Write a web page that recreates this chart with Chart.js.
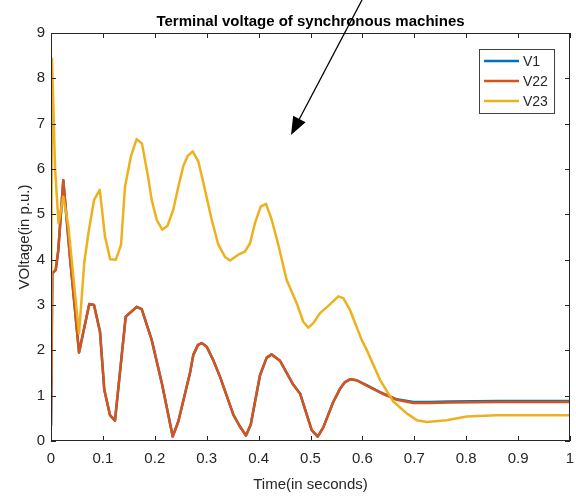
<!DOCTYPE html>
<html>
<head>
<meta charset="utf-8">
<script src="https://cdn.jsdelivr.net/npm/chart.js@4.4.0/dist/chart.umd.min.js"></script>
<style>
  html, body { margin: 0; padding: 0; background: #fff; }
  canvas { display: block; }
</style>
</head>
<body>
<canvas id="voltChart" width="576" height="499"></canvas>
<script>
// Tiempos de simulacion (s) y tensiones en bornes (p.u.)
const timeV1 = [0, 0.0025, 0.009, 0.014, 0.0237, 0.0366, 0.054, 0.0738, 0.0829, 0.0944, 0.1027, 0.1137, 0.1233, 0.1439, 0.1651, 0.1748, 0.194, 0.214, 0.2345, 0.2453, 0.2678, 0.2742, 0.2832, 0.2904, 0.30, 0.312, 0.3256, 0.3513, 0.364, 0.3757, 0.3848, 0.4027, 0.4156, 0.4252, 0.4412, 0.4669, 0.4798, 0.5023, 0.5139, 0.5247, 0.5434, 0.5568, 0.5665, 0.5761, 0.589, 0.61, 0.6339, 0.6661, 0.698, 0.7303, 0.7688, 0.865, 1.0];
const valuesV1 = [0.35, 3.7, 3.77, 4.2, 5.75, 4.05, 1.95, 3.02, 3.0, 2.41, 1.13, 0.57, 0.45, 2.74, 2.96, 2.91, 2.23, 1.25, 0.1, 0.43, 1.5, 1.9, 2.12, 2.16, 2.08, 1.8, 1.42, 0.58, 0.32, 0.12, 0.36, 1.45, 1.84, 1.91, 1.77, 1.24, 1.05, 0.24, 0.095, 0.3, 0.85, 1.15, 1.3, 1.36, 1.34, 1.22, 1.08, 0.92, 0.86, 0.86, 0.87, 0.88, 0.88];

const timeV22 = timeV1;
const valuesV22 = [0.35, 3.7, 3.77, 4.2, 5.75, 4.05, 1.95, 3.02, 3.0, 2.41, 1.13, 0.57, 0.45, 2.74, 2.96, 2.91, 2.23, 1.25, 0.1, 0.43, 1.5, 1.9, 2.12, 2.16, 2.08, 1.8, 1.42, 0.58, 0.32, 0.12, 0.36, 1.45, 1.84, 1.91, 1.77, 1.24, 1.05, 0.24, 0.095, 0.3, 0.85, 1.15, 1.3, 1.36, 1.34, 1.21, 1.07, 0.91, 0.84, 0.84, 0.85, 0.86, 0.86];

const timeV23 = [0, 0.002, 0.0077, 0.0145, 0.0237, 0.0333, 0.054, 0.064, 0.072, 0.083, 0.094, 0.104, 0.114, 0.125, 0.135, 0.1426, 0.154, 0.165, 0.1753, 0.1875, 0.194, 0.2037, 0.2145, 0.2245, 0.2356, 0.2453, 0.2549, 0.2634, 0.273, 0.2838, 0.2967, 0.3096, 0.3224, 0.3353, 0.345, 0.3609, 0.3738, 0.3834, 0.3931, 0.404, 0.4143, 0.4252, 0.438, 0.4495, 0.4541, 0.4734, 0.4861, 0.4958, 0.5054, 0.5183, 0.5343, 0.5536, 0.5632, 0.5761, 0.5986, 0.6083, 0.6339, 0.6595, 0.6854, 0.7046, 0.7239, 0.7624, 0.801, 0.8588, 1.0];
const valuesV23 = [1.46, 8.43, 6.05, 4.8, 5.39, 4.75, 2.37, 3.92, 4.58, 5.32, 5.54, 4.51, 4.01, 4.0, 4.33, 5.61, 6.28, 6.66, 6.56, 5.8, 5.32, 4.88, 4.66, 4.75, 5.1, 5.61, 6.06, 6.29, 6.39, 6.17, 5.54, 4.88, 4.33, 4.06, 3.98, 4.11, 4.18, 4.36, 4.81, 5.17, 5.23, 4.88, 4.33, 3.77, 3.55, 3.04, 2.63, 2.5, 2.6, 2.82, 2.98, 3.19, 3.15, 2.89, 2.23, 2.01, 1.35, 0.87, 0.61, 0.46, 0.42, 0.46, 0.54, 0.57, 0.57];

const seriesNames = ['V1', 'V22', 'V23'];
const seriesColors = ['#0072BD', '#D95319', '#EDB120'];
const xTicks = [0, 0.1, 0.2, 0.3, 0.4, 0.5, 0.6, 0.7, 0.8, 0.9, 1];
const yTicks = [0, 1, 2, 3, 4, 5, 6, 7, 8, 9];

const titleText = 'Terminal voltage of synchronous machines';
const xTitle = 'Time(in seconds)';
const yTitle = 'VOltage(in p.u.)';

const FONT = '"Liberation Sans", Arial, Helvetica, sans-serif';
const AXIS_COLOR = '#262626';

function toPoints(times, vals) {
  return times.map((t, i) => ({ x: t, y: vals[i] }));
}

// Caja, marcas hacia dentro, titulos, leyenda y flecha
const matlabAxes = {
  id: 'matlabAxes',
  afterDraw(chart) {
    const { ctx, chartArea: a, scales } = chart;
    ctx.save();
    ctx.strokeStyle = AXIS_COLOR;
    ctx.lineWidth = 1;
    ctx.strokeRect(a.left + 0.5, a.top + 0.5, a.right - a.left - 1, a.bottom - a.top - 1);

    ctx.beginPath();
    xTicks.forEach(v => {
      const x = Math.round(scales.x.getPixelForValue(v)) + 0.5;
      ctx.moveTo(x, a.bottom); ctx.lineTo(x, a.bottom - 5);
      ctx.moveTo(x, a.top); ctx.lineTo(x, a.top + 5);
    });
    yTicks.forEach(v => {
      const y = Math.round(scales.y.getPixelForValue(v)) + 0.5;
      ctx.moveTo(a.left, y); ctx.lineTo(a.left + 5, y);
      ctx.moveTo(a.right, y); ctx.lineTo(a.right - 5, y);
    });
    ctx.stroke();

    // titulo
    ctx.fillStyle = '#000';
    ctx.font = 'bold 15px ' + FONT;
    ctx.textAlign = 'center';
    ctx.textBaseline = 'alphabetic';
    ctx.fillText(titleText, (a.left + a.right) / 2, 26);

    // titulos de ejes
    ctx.fillStyle = AXIS_COLOR;
    ctx.font = '15px ' + FONT;
    ctx.fillText(xTitle, (a.left + a.right) / 2, 489);
    ctx.save();
    ctx.translate(29, (a.top + a.bottom) / 2);
    ctx.rotate(-Math.PI / 2);
    ctx.fillText(yTitle, 0, 0);
    ctx.restore();

    // leyenda
    const lx = 479, ly = 49, lw = 75, lh = 64;
    ctx.fillStyle = '#fff';
    ctx.fillRect(lx, ly, lw, lh);
    ctx.strokeStyle = '#404040';
    ctx.lineWidth = 1;
    ctx.strokeRect(lx + 0.5, ly + 0.5, lw, lh);
    ctx.font = '14px ' + FONT;
    ctx.textAlign = 'left';
    ctx.textBaseline = 'middle';
    seriesNames.forEach((name, i) => {
      const y = ly + 12 + i * 20;
      ctx.strokeStyle = seriesColors[i];
      ctx.lineWidth = 2.5;
      ctx.beginPath();
      ctx.moveTo(lx + 5, y); ctx.lineTo(lx + 40, y);
      ctx.stroke();
      ctx.fillStyle = AXIS_COLOR;
      ctx.fillText(name, lx + 44, y + 1);
    });

    // flecha
    const tipX = 291, tipY = 135, fromX = 362, fromY = 0;
    const ang = Math.atan2(tipY - fromY, tipX - fromX);
    const headLen = 18, headW = 7;
    const bx = tipX - headLen * Math.cos(ang), by = tipY - headLen * Math.sin(ang);
    ctx.strokeStyle = '#000';
    ctx.lineWidth = 1.3;
    ctx.beginPath();
    ctx.moveTo(fromX, fromY); ctx.lineTo(bx, by);
    ctx.stroke();
    ctx.fillStyle = '#000';
    ctx.beginPath();
    ctx.moveTo(tipX, tipY);
    ctx.lineTo(bx + headW * Math.sin(ang), by - headW * Math.cos(ang));
    ctx.lineTo(bx - headW * Math.sin(ang), by + headW * Math.cos(ang));
    ctx.closePath();
    ctx.fill();
    ctx.restore();
  }
};

new Chart(document.getElementById('voltChart'), {
  type: 'line',
  data: {
    datasets: [
      { label: seriesNames[0], data: toPoints(timeV1, valuesV1), borderColor: seriesColors[0], order: 2 },
      { label: seriesNames[1], data: toPoints(timeV22, valuesV22), borderColor: seriesColors[1], order: 1 },
      { label: seriesNames[2], data: toPoints(timeV23, valuesV23), borderColor: seriesColors[2], order: 0 }
    ]
  },
  options: {
    responsive: false,
    animation: false,
    devicePixelRatio: 1,
    layout: { padding: { top: 33, right: 6, left: 0, bottom: 0 } },
    elements: {
      line: { borderWidth: 2.5, tension: 0, fill: false, borderJoinStyle: 'round', borderCapStyle: 'round' },
      point: { radius: 0 }
    },
    plugins: {
      legend: { display: false },
      title: { display: false },
      tooltip: { enabled: false }
    },
    scales: {
      x: {
        type: 'linear',
        min: 0,
        max: 1,
        afterFit: s => { s.height = 58; s.paddingLeft = 0; s.paddingRight = 0; },
        afterBuildTicks: s => { s.ticks = xTicks.map(v => ({ value: v })); },
        grid: { display: false, drawTicks: false },
        border: { display: false },
        ticks: {
          color: AXIS_COLOR,
          font: { family: FONT, size: 15 },
          padding: 9,
          maxRotation: 0,
          autoSkip: false,
          callback: v => String(Number(v.toFixed(1)))
        }
      },
      y: {
        type: 'linear',
        min: 0,
        max: 9,
        afterFit: s => { s.width = 51; s.paddingTop = 0; s.paddingBottom = 0; },
        afterBuildTicks: s => { s.ticks = yTicks.map(v => ({ value: v })); },
        grid: { display: false, drawTicks: false },
        border: { display: false },
        ticks: {
          color: AXIS_COLOR,
          font: { family: FONT, size: 15 },
          padding: 6,
          autoSkip: false
        }
      }
    }
  },
  plugins: [matlabAxes]
});
</script>
</body>
</html>
